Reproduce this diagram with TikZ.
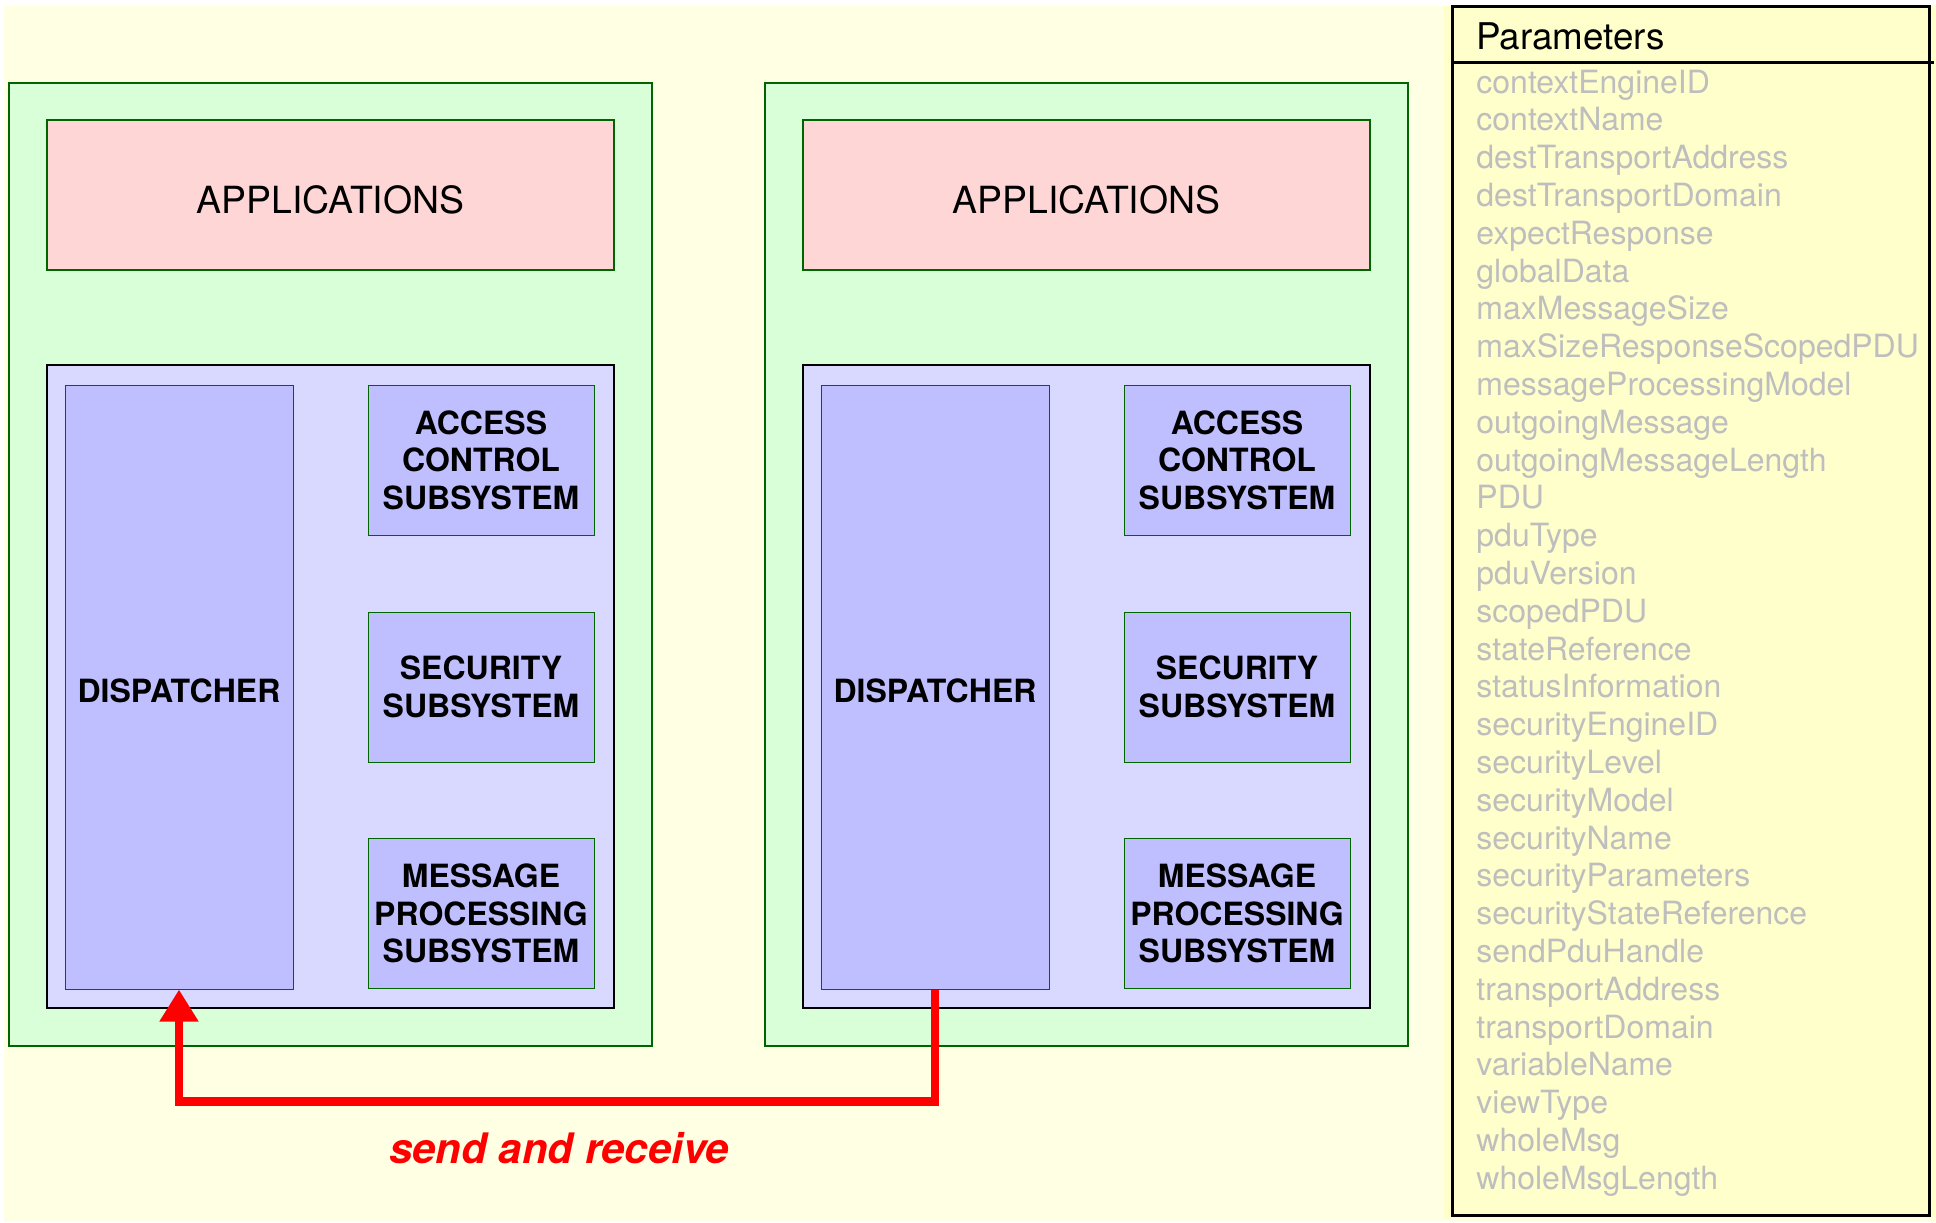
\documentclass[tikz,border=0pt]{standalone}
\usepackage{fontspec}
\setmainfont{TeX Gyre Heros}
\usetikzlibrary{arrows.meta}
\definecolor{bgyellow}{RGB}{255,255,228}
\definecolor{paramfill}{RGB}{255,255,204}
\definecolor{paramgray}{RGB}{190,190,190}
\definecolor{enginefill}{RGB}{217,255,217}
\definecolor{enginegreen}{RGB}{0,100,0}
\definecolor{appsfill}{RGB}{255,214,214}
\definecolor{corefill}{RGB}{217,217,255}
\definecolor{subsysfill}{RGB}{191,191,255}
\begin{document}
\begin{tikzpicture}[x=0.5pt,y=-0.5pt,
    engine/.style={draw=enginegreen, line width=1pt, fill=enginefill,
      minimum width=321.5pt, minimum height=481.5pt},
    apps/.style={draw=enginegreen, line width=1pt, fill=appsfill,
      minimum width=283.5pt, minimum height=75pt, text height=18.5pt,
      font=\fontsize{18.7}{22}\selectfont},
    core/.style={draw=black, line width=1.2pt, fill=corefill,
      minimum width=283.5pt, minimum height=321.5pt},
    subsys/.style={draw=enginegreen, line width=0.5pt, fill=subsysfill,
      minimum width=113pt, minimum height=75pt, inner sep=0pt, align=center,
      font=\fontsize{16}{18.8}\selectfont\bfseries},
    dispatch/.style={draw=enginegreen, line width=0.5pt, fill=subsysfill,
      minimum width=114pt, minimum height=302pt, inner sep=0pt,
      text height=15.5pt, font=\fontsize{16}{18.8}\selectfont\bfseries},
    param/.style={anchor=base west, inner sep=0pt, text=paramgray,
      font=\fontsize{16}{18.9}\selectfont},
    sendline/.style={draw=red, line width=4.25pt,
      -{Triangle[length=16pt,width=18.5pt]}}]
  \useasboundingbox (0,0) rectangle (1936,1222);
  \fill[bgyellow] (4,6) rectangle (1936,1222);
  \fill[paramfill] (1444,6) rectangle (1936,1218);

  % left engine
  \node[engine] (eng-l) at (330.5,564.5) {};
  \node[apps] (apps-l) at (330.5,195) {APPLICATIONS};
  \node[core] (core-l) at (330.5,686.5) {};
  \node[dispatch] (disp-l) at (179,687) {DISPATCHER};
  \node[subsys] (acs-l) at (481,460) {ACCESS\\CONTROL\\SUBSYSTEM};
  \node[subsys] (sec-l) at (481,687) {SECURITY\\SUBSYSTEM};
  \node[subsys] (mps-l) at (481,913.5) {MESSAGE\\PROCESSING\\SUBSYSTEM};

  % right engine
  \node[engine] (eng-r) at (1086.5,564.5) {};
  \node[apps] (apps-r) at (1086.5,195) {APPLICATIONS};
  \node[core] (core-r) at (1086.5,686.5) {};
  \node[dispatch] (disp-r) at (935,687) {DISPATCHER};
  \node[subsys] (acs-r) at (1237,460) {ACCESS\\CONTROL\\SUBSYSTEM};
  \node[subsys] (sec-r) at (1237,687) {SECURITY\\SUBSYSTEM};
  \node[subsys] (mps-r) at (1237,913.5) {MESSAGE\\PROCESSING\\SUBSYSTEM};

  % send and receive
  \draw[sendline] (disp-r.south) -- ++(0,112) -| (disp-l.south);
  \node[text=red, font=\fontsize{21}{25}\selectfont\bfseries\itshape]
    (sendlabel) at (559,1148) {send and receive};

  % parameters
  \node[draw=black, line width=1.5pt, fill=paramfill,
    minimum width=238.5pt, minimum height=604.5pt] (params) at (1690.5,610.5) {};
  \node[anchor=base west, inner sep=0pt, font=\fontsize{18.4}{22}\selectfont]
    (ptitle) at (1476,49) {Parameters};
  \draw[line width=1.5pt] (1454,62) -- (1934,62);
  \foreach \p [count=\i from 0] in {contextEngineID, contextName,
      destTransportAddress, destTransportDomain, expectResponse, globalData,
      maxMessageSize, maxSizeResponseScopedPDU, messageProcessingModel,
      outgoingMessage, outgoingMessageLength, PDU, pduType, pduVersion,
      scopedPDU, stateReference, statusInformation, securityEngineID,
      securityLevel, securityModel, securityName, securityParameters,
      securityStateReference, sendPduHandle, transportAddress,
      transportDomain, variableName, viewType, wholeMsg, wholeMsgLength}
    \node[param] (p\i) at (1476,{93+37.8*\i}) {\p};
\end{tikzpicture}
\end{document}
